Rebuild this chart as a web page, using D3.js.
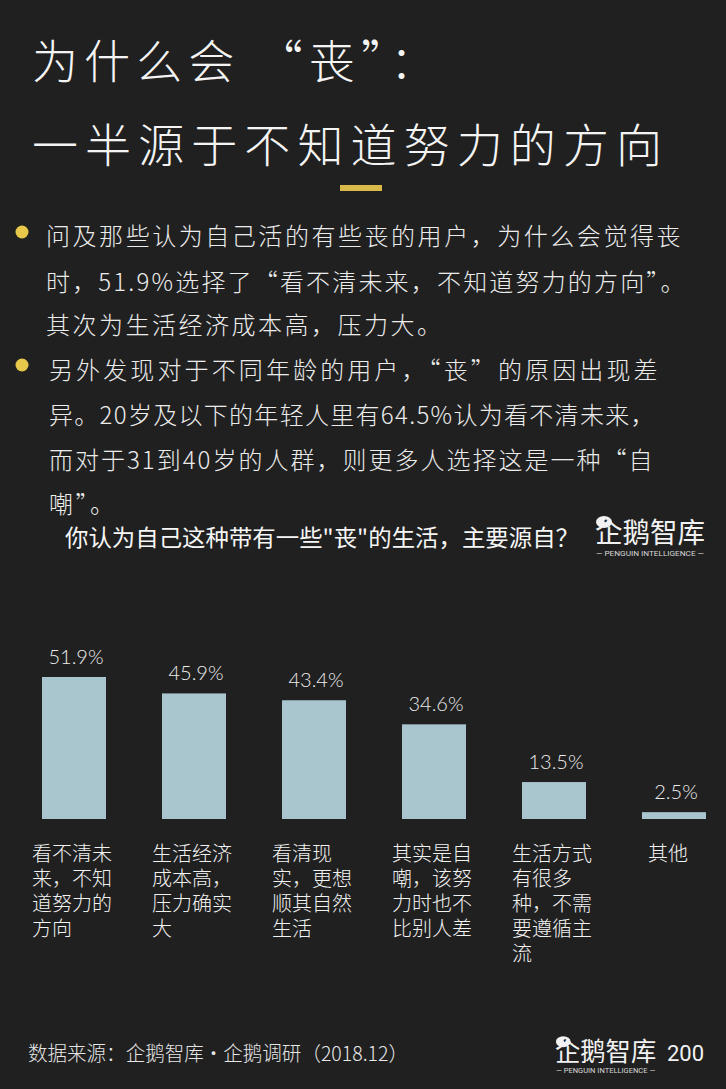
<!DOCTYPE html>
<html>
<head>
<meta charset="utf-8">
<script src="https://cdn.jsdelivr.net/npm/d3@7"></script>
<style>
  body { margin: 0; background: #202020; }
  svg { display: block; }
</style>
</head>
<body>
<div id="chart"></div>
<script>
// chart data
var titleLines = ["为什么会 “丧”：", "一半源于不知道努力的方向"];
var noteLines = [
  "问及那些认为自己活的有些丧的用户，为什么会觉得丧",
  "时，51.9%选择了“看不清未来，不知道努力的方向”。",
  "其次为生活经济成本高，压力大。",
  "另外发现对于不同年龄的用户，“丧”的原因出现差",
  "异。20岁及以下的年轻人里有64.5%认为看不清未来，",
  "而对于31到40岁的人群，则更多人选择这是一种“自",
  "嘲”。"
];
var question = "你认为自己这种带有一些\"丧\"的生活，主要源自？";
var categories = [
  ["看不清未", "来，不知", "道努力的", "方向"],
  ["生活经济", "成本高，", "压力确实", "大"],
  ["看清现", "实，更想", "顺其自然", "生活"],
  ["其实是自", "嘲，该努", "力时也不", "比别人差"],
  ["生活方式", "有很多", "种，不需", "要遵循主", "流"],
  ["其他"]
];
var values = [51.9, 45.9, 43.4, 34.6, 13.5, 2.5];
var source = "数据来源：企鹅智库·企鹅调研（2018.12）";
var pageNo = "200";

var W = 726, H = 1089;
var cjk = "'Noto Sans CJK SC', 'Noto Sans', sans-serif";
var light = "Lato, 'Noto Sans CJK SC', sans-serif";

var svg = d3.select("#chart").append("svg")
  .attr("width", W)
  .attr("height", H);

svg.append("rect")
  .attr("width", W)
  .attr("height", H)
  .attr("fill", "#202020");

// title
var titleY = [58, 142];
svg.selectAll(".title")
  .data(titleLines)
  .enter().append("text")
    .attr("class", "title")
    .attr("x", 32)
    .attr("y", function(d, i) { return titleY[i]; })
    .attr("dominant-baseline", "central")
    .attr("textLength", function(d, i) { return i === 0 ? 404 : 630; })
    .attr("lengthAdjust", "spacing")
    .style("font-family", cjk)
    .style("font-weight", 300)
    .style("font-size", "46px")
    .style("fill", "#f4f4f4")
    .text(function(d) { return d; });

svg.append("rect")
  .attr("x", 340).attr("y", 185)
  .attr("width", 42).attr("height", 6)
  .attr("fill", "#d9b949");

// notes with bullets
var noteY = [234, 280, 323, 368, 413, 458, 502];
var noteX = [46, 46, 46, 49, 49, 49, 49];
var noteLen = [637, 641, null, 611, 608, 606, null];

svg.selectAll(".note")
  .data(noteLines)
  .enter().append("text")
    .attr("class", "note")
    .attr("x", function(d, i) { return noteX[i]; })
    .attr("y", function(d, i) { return noteY[i]; })
    .attr("dominant-baseline", "central")
    .attr("textLength", function(d, i) { return noteLen[i]; })
    .attr("lengthAdjust", "spacing")
    .style("font-family", cjk)
    .style("font-weight", 300)
    .style("font-size", "24px")
    .style("letter-spacing", "2.5px")
    .style("fill", "#ececec")
    .text(function(d) { return d; });

svg.selectAll(".bullet")
  .data([232, 365])
  .enter().append("circle")
    .attr("cx", 22)
    .attr("cy", function(d) { return d; })
    .attr("r", 6.5)
    .attr("fill", "#e8c84a");

// logo helper
function logo(g, x, y, s) {
  g.append("ellipse")
    .attr("cx", x + 9 * s).attr("cy", y - 21 * s)
    .attr("rx", 8 * s).attr("ry", 6 * s)
    .attr("fill", "#f2f2f2");
  g.append("circle")
    .attr("cx", x + 11 * s).attr("cy", y - 22 * s)
    .attr("r", 1.6 * s)
    .attr("fill", "#202020");
  g.append("text")
    .attr("x", x).attr("y", y)
    .attr("textLength", 110 * s)
    .attr("lengthAdjust", "spacingAndGlyphs")
    .style("font-family", cjk)
    .style("font-size", (28 * s) + "px")
    .style("fill", "#f2f2f2")
    .text("企鹅智库");
  g.append("text")
    .attr("x", x + 55 * s).attr("y", y + 13 * s)
    .attr("text-anchor", "middle")
    .attr("textLength", 108 * s)
    .attr("lengthAdjust", "spacingAndGlyphs")
    .style("font-family", "Roboto, sans-serif")
    .style("font-size", (7 * s) + "px")
    .style("fill", "#d8d8d8")
    .text("— PENGUIN  INTELLIGENCE —");
}

// question + logo
svg.append("text")
  .attr("x", 65).attr("y", 536)
  .attr("dominant-baseline", "central")
  .attr("textLength", 514)
  .attr("lengthAdjust", "spacingAndGlyphs")
  .style("font-family", cjk)
  .style("font-size", "23px")
  .style("fill", "#f6f6f6")
  .text(question);

logo(svg.append("g"), 595, 543, 1);

// bars
var x = d3.scaleBand()
  .domain(d3.range(values.length))
  .range([14, 734])
  .paddingInner(56 / 120)
  .paddingOuter(28 / 120);

var y = d3.scaleLinear()
  .domain([0, 60])
  .range([819, 819 - 60 * 2.736]);

svg.selectAll(".bar")
  .data(values)
  .enter().append("rect")
    .attr("class", "bar")
    .attr("x", function(d, i) { return x(i); })
    .attr("y", function(d) { return y(d); })
    .attr("width", x.bandwidth())
    .attr("height", function(d) { return y(0) - y(d); })
    .attr("fill", "#a9c6cf");

svg.selectAll(".val")
  .data(values)
  .enter().append("text")
    .attr("class", "val")
    .attr("x", function(d, i) { return x(i) + x.bandwidth() / 2 + 2; })
    .attr("y", function(d) { return y(d) - 21; })
    .attr("text-anchor", "middle")
    .attr("dominant-baseline", "central")
    .style("font-family", light)
    .style("font-weight", 300)
    .style("font-size", "20px")
    .style("fill", "#ececec")
    .text(function(d) { return d.toFixed(1) + "%"; });

// category labels
var cat = svg.selectAll(".cat")
  .data(categories)
  .enter().append("text")
    .attr("class", "cat")
    .attr("text-anchor", function(d) { return d.length > 1 ? "start" : "middle"; })
    .style("font-family", cjk)
    .style("font-weight", 300)
    .style("font-size", "20px")
    .style("fill", "#f2f2f2");

cat.each(function(lines, i) {
  var cx = x(i) + x.bandwidth() / 2;
  var lx = lines.length > 1 ? cx - 42 : cx - 6;
  d3.select(this).selectAll("tspan")
    .data(lines)
    .enter().append("tspan")
      .attr("x", lx)
      .attr("y", function(d, j) { return 852 + j * 25; })
      .attr("dominant-baseline", "central")
      .text(function(d) { return d; });
});

// footer
svg.append("text")
  .attr("x", 28).attr("y", 1052)
  .attr("dominant-baseline", "central")
  .attr("textLength", 380)
  .attr("lengthAdjust", "spacingAndGlyphs")
  .style("font-family", cjk)
  .style("font-weight", 300)
  .style("font-size", "20px")
  .style("fill", "#e6e6e6")
  .text(source);

logo(svg.append("g"), 555, 1061, 0.92);

svg.append("text")
  .attr("x", 667).attr("y", 1053)
  .attr("dominant-baseline", "central")
  .style("font-family", "Roboto, sans-serif")
  .style("font-size", "22px")
  .style("fill", "#f2f2f2")
  .text(pageNo);
</script>
</body>
</html>
